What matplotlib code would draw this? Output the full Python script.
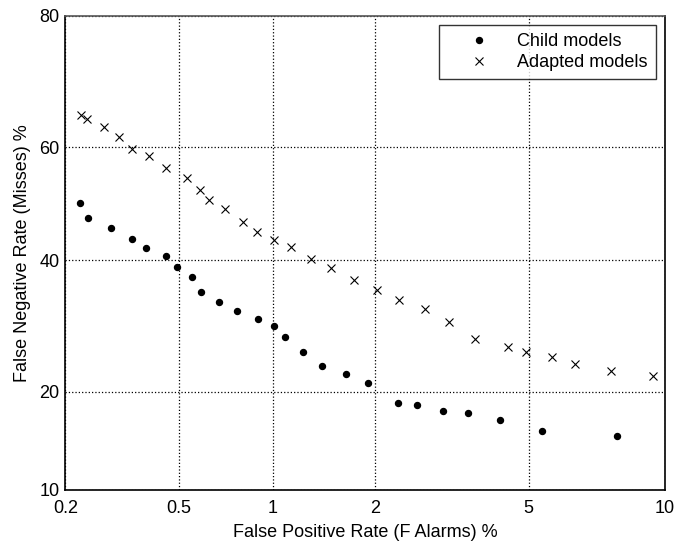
import math
import numpy as np
import matplotlib
matplotlib.use("Agg")
import matplotlib.pyplot as plt

# ---- data (percent) ----
child_fpr = [0.226, 0.242, 0.293, 0.346, 0.387, 0.454, 0.492, 0.554, 0.590, 0.677,
             0.772, 0.903, 1.013, 1.095, 1.238, 1.413, 1.66, 1.91, 2.31, 2.60,
             3.05, 3.54, 4.26, 5.37, 7.93]
child_fnr = [50.1, 47.4, 45.7, 43.8, 42.1, 40.75, 38.9, 37.2, 34.6, 33.0,
             31.5, 30.3, 29.2, 27.6, 25.3, 23.4, 22.3, 21.05, 18.6, 18.4,
             17.7, 17.4, 16.7, 15.4, 14.9]
adapt_fpr = [0.229, 0.240, 0.275, 0.3125, 0.347, 0.395, 0.451, 0.532, 0.589, 0.629,
             0.709, 0.810, 0.897, 1.01, 1.137, 1.304, 1.50, 1.74, 2.03, 2.33,
             2.735, 3.17, 3.70, 4.46, 4.92, 5.67, 6.40, 7.69, 9.45]
adapt_fnr = [65.4, 64.8, 63.4, 61.8, 59.7, 58.4, 56.3, 54.6, 52.5, 50.6,
             49.1, 46.7, 45.0, 43.5, 42.3, 40.2, 38.6, 36.7, 34.9, 33.3,
             31.8, 29.9, 27.3, 26.1, 25.4, 24.6, 23.7, 22.7, 22.0]
x_ticks = [0.2, 0.5, 1, 2, 5, 10]
x_ticklabels = ["0.2", "0.5", "1", "2", "5", "10"]
y_ticks = [10, 20, 40, 60, 80]
y_ticklabels = ["10", "20", "40", "60", "80"]


# ---- probit (normal deviate) scale ----
def _ppf(p):
    # Acklam's inverse normal CDF approximation
    a = [-3.969683028665376e+01, 2.209460984245205e+02, -2.759285104469687e+02,
         1.383577518672690e+02, -3.066479806614716e+01, 2.506628277459239e+00]
    b = [-5.447609879822406e+01, 1.615858368580409e+02, -1.556989798598866e+02,
         6.680131188771972e+01, -1.328068155288572e+01]
    c = [-7.784894002430293e-03, -3.223964580411365e-01, -2.400758277161838e+00,
         -2.549732539343734e+00, 4.374664141464968e+00, 2.938163982698783e+00]
    d = [7.784695709041462e-03, 3.224671290700398e-01, 2.445134137142996e+00,
         3.754408661907416e+00]
    p = min(max(p, 1e-12), 1 - 1e-12)
    plow = 0.02425
    if p < plow:
        q = math.sqrt(-2 * math.log(p))
        return (((((c[0]*q+c[1])*q+c[2])*q+c[3])*q+c[4])*q+c[5]) / \
               ((((d[0]*q+d[1])*q+d[2])*q+d[3])*q+1)
    if p > 1 - plow:
        q = math.sqrt(-2 * math.log(1 - p))
        return -(((((c[0]*q+c[1])*q+c[2])*q+c[3])*q+c[4])*q+c[5]) / \
                ((((d[0]*q+d[1])*q+d[2])*q+d[3])*q+1)
    q = p - 0.5
    r = q * q
    return (((((a[0]*r+a[1])*r+a[2])*r+a[3])*r+a[4])*r+a[5])*q / \
           (((((b[0]*r+b[1])*r+b[2])*r+b[3])*r+b[4])*r+1)


def forward(v):
    v = np.asarray(v, dtype=float)
    out = np.array([_ppf(x / 100.0) if np.isfinite(x) else np.nan for x in v.ravel()])
    return out.reshape(v.shape)


def inverse(z):
    z = np.asarray(z, dtype=float)
    out = np.array([50.0 * (1 + math.erf(x / math.sqrt(2))) if np.isfinite(x) else np.nan
                    for x in z.ravel()])
    return out.reshape(z.shape)


plt.rcParams['font.family'] = ['Liberation Sans', 'DejaVu Sans']
FS = 13

fig = plt.figure(figsize=(6.75, 5.42), dpi=100)
ax = fig.add_axes([65.3 / 675, (542 - 490) / 542, (665 - 65.3) / 675, (490 - 15.7) / 542])

ax.set_xscale('function', functions=(forward, inverse))
ax.set_yscale('function', functions=(forward, inverse))

ax.plot(child_fpr, child_fnr, linestyle='none', marker='o', markersize=4.3,
        color='black', label='Child models')
ax.plot(adapt_fpr, adapt_fnr, linestyle='none', marker='x', markersize=6,
        markeredgewidth=0.8, color='black', label='Adapted models')

ax.set_xlim(0.2, 10)
ax.set_ylim(10, 80)
ax.set_xticks(x_ticks)
ax.set_xticklabels(x_ticklabels)
ax.set_yticks(y_ticks)
ax.set_yticklabels(y_ticklabels)
ax.xaxis.set_minor_locator(matplotlib.ticker.NullLocator())
ax.yaxis.set_minor_locator(matplotlib.ticker.NullLocator())
ax.tick_params(axis='both', length=0, labelsize=FS)
ax.tick_params(axis='x', pad=7)
ax.tick_params(axis='y', pad=4)

ax.grid(True, linestyle=':', color='black', linewidth=0.9)
ax.set_axisbelow(True)

for s in ['left', 'bottom', 'right']:
    ax.spines[s].set_color('black')
    ax.spines[s].set_linewidth(1.2)
ax.spines['top'].set_color('#555555')
ax.spines['top'].set_linewidth(1.2)

ax.set_xlabel('False Positive Rate (F Alarms) %', fontsize=FS, labelpad=5)
ax.set_ylabel('False Negative Rate (Misses) %', fontsize=FS, labelpad=6)

leg = ax.legend(loc='upper right', fontsize=FS, frameon=True, fancybox=False,
                edgecolor='black', borderaxespad=0.5, handlelength=3.6,
                handletextpad=0.3, borderpad=0.45, labelspacing=0.25)
leg.get_frame().set_linewidth(1.0)

fig.savefig('out.png', dpi=100)
